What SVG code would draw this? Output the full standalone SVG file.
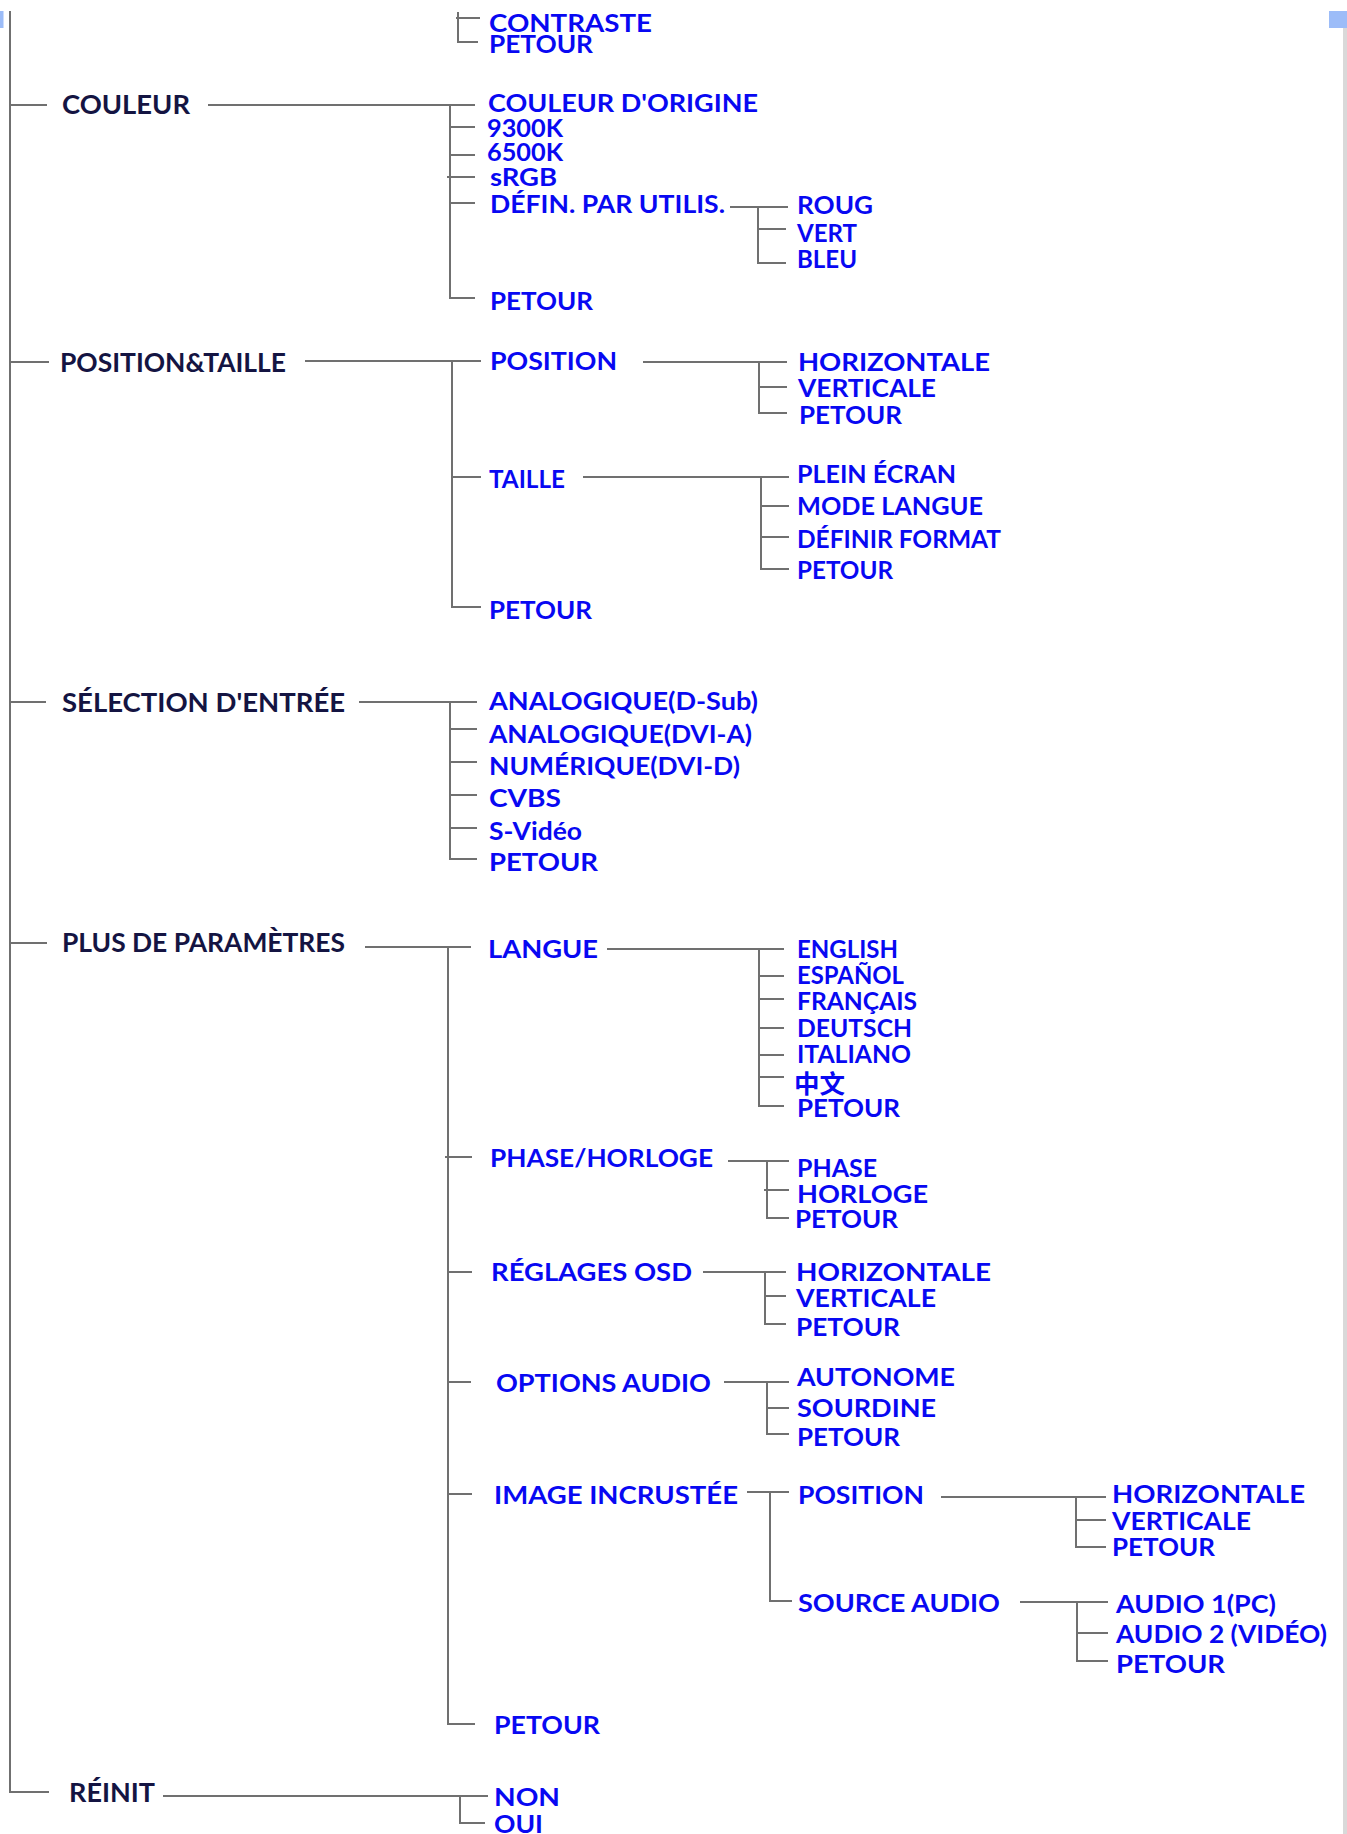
<svg xmlns="http://www.w3.org/2000/svg" width="1347" height="1834" viewBox="0 0 1347 1834">
<style>
.n{font-family:Lato,"Liberation Sans",sans-serif;font-weight:700;font-size:26px;fill:#141442}
.b{font-family:Lato,"Liberation Sans",sans-serif;font-weight:700;font-size:25px;fill:#0808f2}
.cjk{font-family:"Noto Sans CJK SC",sans-serif;font-weight:700;font-size:25px;fill:#0808f2}
.c path{fill:none;stroke:#707070;stroke-width:2}
</style>
<rect x="0" y="0" width="1347" height="1834" fill="#ffffff"/>
<rect x="0" y="11" width="3.5" height="17" fill="#9cbcf8"/>
<rect x="1329" y="11" width="18" height="17" fill="#9cbcf8"/>
<rect x="1343" y="28" width="4" height="1806" fill="#d9d9d9"/>

<g class="c" id="connectors">
<path d="M10,11 V1792 H49"/>
<path d="M10,105 H47"/>
<path d="M10,362 H49"/>
<path d="M10,702 H46"/>
<path d="M10,943 H47"/>
<path d="M458,12 V42 H478 M456,18 H480"/>
<path d="M208,105 H475 M450,105 V298 H475 M450,127 H475 M450,155 H475 M447,177 H475 M450,203 H475"/>
<path d="M730,207 H788 M758,207 V263 H786 M758,229 H786"/>
<path d="M305,361 H481 M452,361 V607 H481 M452,477 H481"/>
<path d="M643,362 H787 M759,362 V413 H787 M759,387 H787"/>
<path d="M583,477 H789 M761,477 V569 H789 M761,506 H789 M761,537 H789"/>
<path d="M359,702 H477 M450,702 V859 H477 M450,729 H477 M450,762 H477 M450,795 H477 M450,828 H477"/>
<path d="M365,947 H471 M448,947 V1724 H475 M445,1157 H472 M447,1272 H472 M447,1382 H471 M447,1494 H472"/>
<path d="M607,949 H784 M759,949 V1106 H784 M759,976 H784 M759,999 H784 M759,1028 H784 M759,1055 H784 M759,1077 H784"/>
<path d="M728,1161 H789 M767,1161 V1218 H789 M764,1190 H789"/>
<path d="M703,1272 H786 M765,1272 V1324 H786 M765,1296 H786"/>
<path d="M724,1382 H789 M767,1382 V1434 H789 M767,1408 H789"/>
<path d="M747,1492 H789 M770,1492 V1601 H792"/>
<path d="M941,1497 H1106 M1076,1497 V1547 H1106 M1076,1520 H1106"/>
<path d="M1020,1602 H1108 M1077,1602 V1661 H1108 M1077,1633 H1108"/>
<path d="M163,1796 H488 M460,1796 V1823 H485"/>
</g>

<g id="top-items">
<text class="b" x="489" y="32" textLength="163" lengthAdjust="spacingAndGlyphs">CONTRASTE</text>
<text class="b" x="489" y="53" textLength="104" lengthAdjust="spacingAndGlyphs">PETOUR</text>
</g>

<g id="couleur">
<text class="n" x="62" y="114" textLength="128" lengthAdjust="spacingAndGlyphs">COULEUR</text>
</g>
<g id="couleur-children">
<text class="b" x="488" y="112" textLength="270" lengthAdjust="spacingAndGlyphs">COULEUR D'ORIGINE</text>
<text class="b" x="487" y="137" textLength="76" lengthAdjust="spacingAndGlyphs">9300K</text>
<text class="b" x="487" y="161" textLength="76" lengthAdjust="spacingAndGlyphs">6500K</text>
<text class="b" x="490" y="186" textLength="67" lengthAdjust="spacingAndGlyphs">sRGB</text>
<text class="b" x="490" y="213" textLength="235" lengthAdjust="spacingAndGlyphs">DÉFIN. PAR UTILIS.</text>
<text class="b" x="490" y="310" textLength="103" lengthAdjust="spacingAndGlyphs">PETOUR</text>
</g>
<g id="defin-children">
<text class="b" x="797" y="214" textLength="76" lengthAdjust="spacingAndGlyphs">ROUG</text>
<text class="b" x="797" y="242" textLength="60" lengthAdjust="spacingAndGlyphs">VERT</text>
<text class="b" x="797" y="268" textLength="60" lengthAdjust="spacingAndGlyphs">BLEU</text>
</g>

<g id="position-taille">
<text class="n" x="60" y="372" textLength="226" lengthAdjust="spacingAndGlyphs">POSITION&amp;TAILLE</text>
</g>
<g id="position-taille-children">
<text class="b" x="490" y="370" textLength="127" lengthAdjust="spacingAndGlyphs">POSITION</text>
<text class="b" x="489" y="488" textLength="76" lengthAdjust="spacingAndGlyphs">TAILLE</text>
<text class="b" x="489" y="619" textLength="103" lengthAdjust="spacingAndGlyphs">PETOUR</text>
</g>
<g id="position-children">
<text class="b" x="798" y="371" textLength="192" lengthAdjust="spacingAndGlyphs">HORIZONTALE</text>
<text class="b" x="798" y="397" textLength="138" lengthAdjust="spacingAndGlyphs">VERTICALE</text>
<text class="b" x="799" y="424" textLength="103" lengthAdjust="spacingAndGlyphs">PETOUR</text>
</g>
<g id="taille-children">
<text class="b" x="797" y="483" textLength="159" lengthAdjust="spacingAndGlyphs">PLEIN ÉCRAN</text>
<text class="b" x="797" y="515" textLength="186" lengthAdjust="spacingAndGlyphs">MODE LANGUE</text>
<text class="b" x="797" y="548" textLength="204" lengthAdjust="spacingAndGlyphs">DÉFINIR FORMAT</text>
<text class="b" x="797" y="579" textLength="96" lengthAdjust="spacingAndGlyphs">PETOUR</text>
</g>

<g id="selection-entree">
<text class="n" x="62" y="712" textLength="283" lengthAdjust="spacingAndGlyphs">SÉLECTION D'ENTRÉE</text>
</g>
<g id="selection-children">
<text class="b" x="489" y="710" textLength="269" lengthAdjust="spacingAndGlyphs">ANALOGIQUE(D-Sub)</text>
<text class="b" x="489" y="743" textLength="263" lengthAdjust="spacingAndGlyphs">ANALOGIQUE(DVI-A)</text>
<text class="b" x="489" y="775" textLength="251" lengthAdjust="spacingAndGlyphs">NUMÉRIQUE(DVI-D)</text>
<text class="b" x="489" y="807" textLength="72" lengthAdjust="spacingAndGlyphs">CVBS</text>
<text class="b" x="489" y="840" textLength="93" lengthAdjust="spacingAndGlyphs">S-Vidéo</text>
<text class="b" x="489" y="871" textLength="109" lengthAdjust="spacingAndGlyphs">PETOUR</text>
</g>

<g id="plus-parametres">
<text class="n" x="62" y="952" textLength="283" lengthAdjust="spacingAndGlyphs">PLUS DE PARAMÈTRES</text>
</g>
<g id="plus-children">
<text class="b" x="488" y="958" textLength="110" lengthAdjust="spacingAndGlyphs">LANGUE</text>
<text class="b" x="490" y="1167" textLength="223" lengthAdjust="spacingAndGlyphs">PHASE/HORLOGE</text>
<text class="b" x="491" y="1281" textLength="201" lengthAdjust="spacingAndGlyphs">RÉGLAGES OSD</text>
<text class="b" x="496" y="1392" textLength="215" lengthAdjust="spacingAndGlyphs">OPTIONS AUDIO</text>
<text class="b" x="494" y="1504" textLength="244" lengthAdjust="spacingAndGlyphs">IMAGE INCRUSTÉE</text>
<text class="b" x="494" y="1734" textLength="106" lengthAdjust="spacingAndGlyphs">PETOUR</text>
</g>
<g id="langue-children">
<text class="b" x="797" y="958" textLength="101" lengthAdjust="spacingAndGlyphs">ENGLISH</text>
<text class="b" x="797" y="984" textLength="107" lengthAdjust="spacingAndGlyphs">ESPAÑOL</text>
<text class="b" x="797" y="1010" textLength="120" lengthAdjust="spacingAndGlyphs">FRANÇAIS</text>
<text class="b" x="797" y="1037" textLength="115" lengthAdjust="spacingAndGlyphs">DEUTSCH</text>
<text class="b" x="797" y="1063" textLength="114" lengthAdjust="spacingAndGlyphs">ITALIANO</text>
<text class="cjk" x="794" y="1093" textLength="51" lengthAdjust="spacingAndGlyphs">中文</text>
<text class="b" x="797" y="1117" textLength="103" lengthAdjust="spacingAndGlyphs">PETOUR</text>
</g>
<g id="phase-horloge-children">
<text class="b" x="797" y="1177" textLength="80" lengthAdjust="spacingAndGlyphs">PHASE</text>
<text class="b" x="797" y="1203" textLength="131" lengthAdjust="spacingAndGlyphs">HORLOGE</text>
<text class="b" x="795" y="1228" textLength="103" lengthAdjust="spacingAndGlyphs">PETOUR</text>
</g>
<g id="reglages-osd-children">
<text class="b" x="796" y="1281" textLength="195" lengthAdjust="spacingAndGlyphs">HORIZONTALE</text>
<text class="b" x="796" y="1307" textLength="140" lengthAdjust="spacingAndGlyphs">VERTICALE</text>
<text class="b" x="796" y="1336" textLength="104" lengthAdjust="spacingAndGlyphs">PETOUR</text>
</g>
<g id="options-audio-children">
<text class="b" x="797" y="1386" textLength="158" lengthAdjust="spacingAndGlyphs">AUTONOME</text>
<text class="b" x="797" y="1417" textLength="139" lengthAdjust="spacingAndGlyphs">SOURDINE</text>
<text class="b" x="797" y="1446" textLength="103" lengthAdjust="spacingAndGlyphs">PETOUR</text>
</g>
<g id="image-incrustee-children">
<text class="b" x="798" y="1504" textLength="126" lengthAdjust="spacingAndGlyphs">POSITION</text>
<text class="b" x="798" y="1612" textLength="202" lengthAdjust="spacingAndGlyphs">SOURCE AUDIO</text>
</g>
<g id="pip-position-children">
<text class="b" x="1112" y="1503" textLength="193" lengthAdjust="spacingAndGlyphs">HORIZONTALE</text>
<text class="b" x="1112" y="1530" textLength="139" lengthAdjust="spacingAndGlyphs">VERTICALE</text>
<text class="b" x="1112" y="1556" textLength="103" lengthAdjust="spacingAndGlyphs">PETOUR</text>
</g>
<g id="source-audio-children">
<text class="b" x="1116" y="1613" textLength="160" lengthAdjust="spacingAndGlyphs">AUDIO 1(PC)</text>
<text class="b" x="1116" y="1643" textLength="211" lengthAdjust="spacingAndGlyphs">AUDIO 2 (VIDÉO)</text>
<text class="b" x="1116" y="1673" textLength="109" lengthAdjust="spacingAndGlyphs">PETOUR</text>
</g>

<g id="reinit">
<text class="n" x="69" y="1802" textLength="86" lengthAdjust="spacingAndGlyphs">RÉINIT</text>
</g>
<g id="reinit-children">
<text class="b" x="494" y="1806" textLength="66" lengthAdjust="spacingAndGlyphs">NON</text>
<text class="b" x="494" y="1833" textLength="49" lengthAdjust="spacingAndGlyphs">OUI</text>
</g>
</svg>
